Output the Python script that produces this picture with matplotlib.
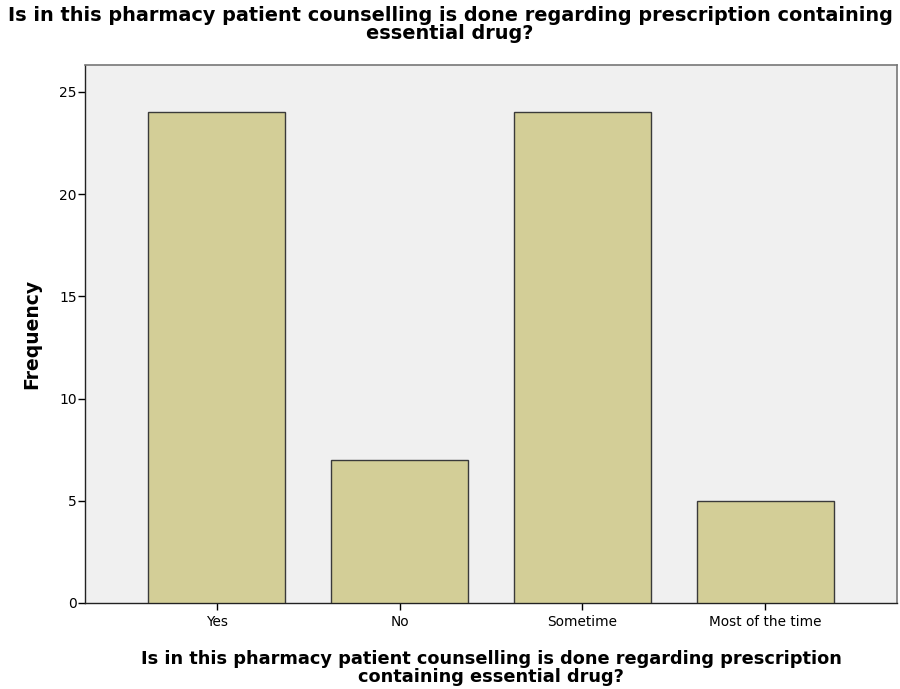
import matplotlib
matplotlib.use("Agg")
import matplotlib.pyplot as plt

categories = ["Yes", "No", "Sometime", "Most of the time"]
frequency = [24, 7, 24, 5]
y_ticks = [0, 5, 10, 15, 20, 25]
title = "Is in this pharmacy patient counselling is done regarding prescription containing\nessential drug?"
xlabel = "Is in this pharmacy patient counselling is done regarding prescription\ncontaining essential drug?"

plt.rcParams['font.family'] = ['DejaVu Sans']

fig = plt.figure(figsize=(9, 6.89), dpi=100)
ax = fig.add_axes([85/900, 1-603/689, (897-85)/900, (603-65)/689])
ax.set_facecolor("#f0f0f0")
x = list(range(len(categories)))
ax.bar(x, frequency, width=0.75, color="#d3ce97", edgecolor="#3a3a3a", linewidth=1.0, zorder=3)
ax.set_xlim(-0.72, 3.72)
ax.set_ylim(0, 26.32)
ax.set_yticks(y_ticks)
ax.set_xticks(x)
ax.set_xticklabels(categories, fontsize=9.8)
ax.tick_params(axis='y', labelsize=10, length=5, width=1, direction='out', pad=1)
ax.tick_params(axis='x', length=5, width=1, direction='out', pad=4)
for s in ['left', 'bottom']:
    ax.spines[s].set_color("#222222")
    ax.spines[s].set_linewidth(1.0)
for s in ['top', 'right']:
    ax.spines[s].set_color("#777777")
    ax.spines[s].set_linewidth(1.2)
ax.set_ylabel("Frequency", fontsize=13.5, fontweight='bold', labelpad=13)
ax.set_xlabel(xlabel, fontsize=12.8, fontweight='bold', labelpad=15, linespacing=0.95)
fig.text(0.5, 0.992, title, ha='center', va='top', fontsize=13.9, fontweight='bold', linespacing=0.95)
fig.savefig("out.png", dpi=100)
